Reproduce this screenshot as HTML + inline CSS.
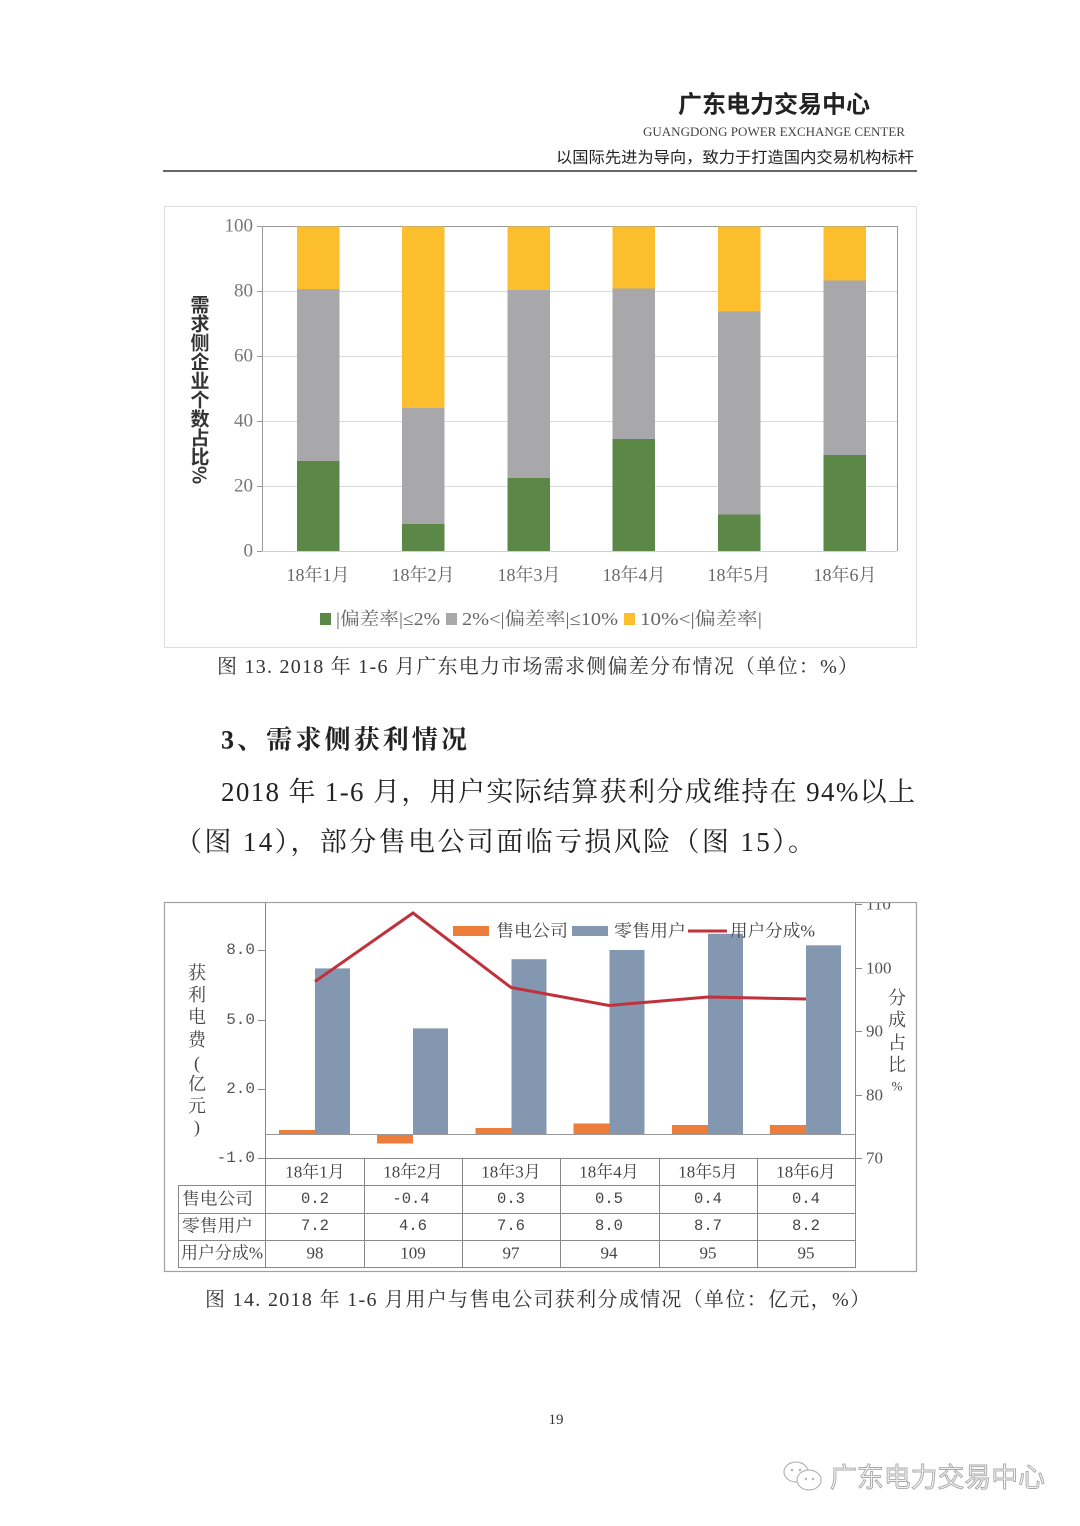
<!DOCTYPE html>
<html><head><meta charset="utf-8"><style>
html,body{margin:0;padding:0;background:#fff;}
svg{display:block;}
</style></head><body>
<svg width="1080" height="1526" viewBox="0 0 1080 1526" xmlns="http://www.w3.org/2000/svg">
<rect width="1080" height="1526" fill="#fff"/>
<!-- header -->
<text x="678" y="105" font-family="'Liberation Sans','Noto Sans CJK SC',sans-serif" font-weight="bold" font-size="24" fill="#222" dominant-baseline="central" textLength="192" lengthAdjust="spacingAndGlyphs">广东电力交易中心</text>
<text x="643" y="132" font-family="'Liberation Serif',serif" font-size="12.5" fill="#444" dominant-baseline="central" textLength="262" lengthAdjust="spacingAndGlyphs">GUANGDONG POWER EXCHANGE CENTER</text>
<text x="556" y="158" font-family="'Liberation Sans','Noto Sans CJK SC',sans-serif" font-size="15.5" fill="#222" dominant-baseline="central" textLength="358" lengthAdjust="spacingAndGlyphs">以国际先进为导向，致力于打造国内交易机构标杆</text>
<line x1="163" y1="171" x2="917" y2="171" stroke="#333" stroke-width="1.5"/>

<!-- chart 1 -->
<rect x="164.5" y="206.5" width="752" height="441" fill="#fff" stroke="#dcdcdc" stroke-width="1"/>
<g stroke="#d9d9d9" stroke-width="1">
<line x1="262" y1="291.5" x2="897" y2="291.5"/>
<line x1="262" y1="356.5" x2="897" y2="356.5"/>
<line x1="262" y1="421.5" x2="897" y2="421.5"/>
<line x1="262" y1="486.5" x2="897" y2="486.5"/>
</g>
<line x1="262" y1="226.5" x2="897" y2="226.5" stroke="#999" stroke-width="1"/>
<line x1="897.5" y1="226" x2="897.5" y2="551" stroke="#999" stroke-width="1"/>
<line x1="262" y1="551.5" x2="897" y2="551.5" stroke="#d0d0d0" stroke-width="1"/>
<line x1="262.5" y1="226" x2="262.5" y2="551" stroke="#999" stroke-width="1"/>
<g stroke="#999" stroke-width="1">
<line x1="257" y1="226.5" x2="262" y2="226.5"/>
<line x1="257" y1="291.5" x2="262" y2="291.5"/>
<line x1="257" y1="356.5" x2="262" y2="356.5"/>
<line x1="257" y1="421.5" x2="262" y2="421.5"/>
<line x1="257" y1="486.5" x2="262" y2="486.5"/>
<line x1="257" y1="551.5" x2="262" y2="551.5"/>
</g>
<g font-family="'Liberation Serif',serif" font-size="19" fill="#777" text-anchor="end" dominant-baseline="central">
<text x="253" y="226">100</text>
<text x="253" y="291">80</text>
<text x="253" y="356">60</text>
<text x="253" y="421">40</text>
<text x="253" y="486">20</text>
<text x="253" y="551">0</text>
</g>
<g>
<rect x="297" y="226.5" width="42.5" height="62.5" fill="#fcbe2c"/>
<rect x="297" y="289" width="42.5" height="172" fill="#a8a8aa"/>
<rect x="297" y="461" width="42.5" height="90" fill="#5b8747"/>

<rect x="402" y="226.5" width="42.5" height="181.5" fill="#fcbe2c"/>
<rect x="402" y="408" width="42.5" height="116" fill="#a8a8aa"/>
<rect x="402" y="524" width="42.5" height="27" fill="#5b8747"/>

<rect x="507.5" y="226.5" width="42.5" height="63.5" fill="#fcbe2c"/>
<rect x="507.5" y="290" width="42.5" height="188" fill="#a8a8aa"/>
<rect x="507.5" y="478" width="42.5" height="73" fill="#5b8747"/>

<rect x="612.5" y="226.5" width="42.5" height="62" fill="#fcbe2c"/>
<rect x="612.5" y="288.5" width="42.5" height="150.5" fill="#a8a8aa"/>
<rect x="612.5" y="439" width="42.5" height="112" fill="#5b8747"/>

<rect x="718" y="226.5" width="42.5" height="85" fill="#fcbe2c"/>
<rect x="718" y="311.5" width="42.5" height="203" fill="#a8a8aa"/>
<rect x="718" y="514.5" width="42.5" height="36.5" fill="#5b8747"/>

<rect x="823.5" y="226.5" width="42.5" height="54" fill="#fcbe2c"/>
<rect x="823.5" y="280.5" width="42.5" height="174.5" fill="#a8a8aa"/>
<rect x="823.5" y="455" width="42.5" height="96" fill="#5b8747"/>
</g>
<g font-family="'Liberation Serif','Noto Serif CJK SC',serif" font-size="18" fill="#666" text-anchor="middle" dominant-baseline="central">
<text x="318" y="575">18年1月</text>
<text x="423" y="575">18年2月</text>
<text x="529" y="575">18年3月</text>
<text x="634" y="575">18年4月</text>
<text x="739" y="575">18年5月</text>
<text x="845" y="575">18年6月</text>
</g>
<g font-family="'Noto Sans CJK SC','Liberation Sans',sans-serif" font-weight="bold" font-size="19" fill="#333" text-anchor="middle" dominant-baseline="central">
<text x="200" y="304">需</text>
<text x="200" y="323">求</text>
<text x="200" y="342">侧</text>
<text x="200" y="361">企</text>
<text x="200" y="380">业</text>
<text x="200" y="399">个</text>
<text x="200" y="418">数</text>
<text x="200" y="437">占</text>
<text x="200" y="456">比</text>
<text x="200" y="475" transform="rotate(90 200 475)">%</text>
</g>
<rect x="320" y="613" width="11" height="12" fill="#5b8747"/>
<rect x="446" y="613" width="11" height="12" fill="#a8a8aa"/>
<rect x="624" y="613" width="11" height="12" fill="#fcbe2c"/>
<g font-family="'Liberation Serif','Noto Serif CJK SC',serif" font-size="18" fill="#666" dominant-baseline="central">
<text x="336" y="619" textLength="104" lengthAdjust="spacingAndGlyphs">|偏差率|≤2%</text>
<text x="462" y="619" textLength="156" lengthAdjust="spacingAndGlyphs">2%&lt;|偏差率|≤10%</text>
<text x="640" y="619" textLength="122" lengthAdjust="spacingAndGlyphs">10%&lt;|偏差率|</text>
</g>
<text x="217" y="667" font-family="'Liberation Serif','Noto Serif CJK SC',serif" font-size="20" fill="#333" dominant-baseline="central" textLength="641" lengthAdjust="spacing">图 13. 2018 年 1-6 月广东电力市场需求侧偏差分布情况（单位：%）</text>

<!-- body text -->
<text x="221" y="740" font-family="'Liberation Serif','Noto Serif CJK SC',serif" font-weight="bold" font-size="26" fill="#222" dominant-baseline="central" textLength="246" lengthAdjust="spacing">3、需求侧获利情况</text>
<text x="221" y="792" font-family="'Liberation Serif','Noto Serif CJK SC',serif" font-size="27" fill="#222" dominant-baseline="central" textLength="694" lengthAdjust="spacing">2018 年 1-6 月，用户实际结算获利分成维持在 94%以上</text>
<text x="175" y="842" font-family="'Liberation Serif','Noto Serif CJK SC',serif" font-size="27" fill="#222" dominant-baseline="central" textLength="640" lengthAdjust="spacing">（图 14），部分售电公司面临亏损风险（图 15）。</text>

<!-- chart 2 -->
<defs><clipPath id="c2"><rect x="165" y="903" width="751" height="368"/></clipPath></defs>
<rect x="164.5" y="902.5" width="752" height="369" fill="#fff" stroke="#a0a0a0" stroke-width="1.2"/>
<g clip-path="url(#c2)">
<line x1="265.5" y1="903" x2="265.5" y2="1267" stroke="#888" stroke-width="1"/>
<line x1="855.5" y1="903" x2="855.5" y2="1267" stroke="#888" stroke-width="1"/>
<g stroke="#888" stroke-width="1">
<line x1="258" y1="950.5" x2="265" y2="950.5"/>
<line x1="258" y1="1020.5" x2="265" y2="1020.5"/>
<line x1="258" y1="1089.5" x2="265" y2="1089.5"/>
<line x1="258" y1="1158.5" x2="265" y2="1158.5"/>
<line x1="856" y1="904.5" x2="862" y2="904.5"/>
<line x1="856" y1="968.5" x2="862" y2="968.5"/>
<line x1="856" y1="1031.5" x2="862" y2="1031.5"/>
<line x1="856" y1="1095.5" x2="862" y2="1095.5"/>
<line x1="856" y1="1158.5" x2="862" y2="1158.5"/>
</g>
<g font-family="'Liberation Serif',serif" font-size="17" fill="#555" dominant-baseline="central">
<text x="866" y="904">110</text>
<text x="866" y="968">100</text>
<text x="866" y="1031">90</text>
<text x="866" y="1095">80</text>
<text x="866" y="1158">70</text>
</g>
</g>
<g font-family="'Liberation Mono',monospace" font-size="16" fill="#555" text-anchor="end" dominant-baseline="central">
<text x="255" y="950">8.0</text>
<text x="255" y="1020">5.0</text>
<text x="255" y="1089">2.0</text>
<text x="255" y="1158">-1.0</text>
</g>
<g font-family="'Liberation Serif','Noto Serif CJK SC',serif" font-size="18" fill="#444" text-anchor="middle" dominant-baseline="central">
<text x="197" y="973">获</text>
<text x="197" y="995">利</text>
<text x="197" y="1017">电</text>
<text x="197" y="1040">费</text>
<text x="197" y="1063">(</text>
<text x="197" y="1084">亿</text>
<text x="197" y="1106">元</text>
<text x="197" y="1127">)</text>
<text x="897" y="998">分</text>
<text x="897" y="1020">成</text>
<text x="897" y="1043">占</text>
<text x="897" y="1065">比</text>
<text x="897" y="1086" font-size="13">%</text>
</g>
<g fill="#8497b0">
<rect x="315" y="968.4" width="35" height="166.1"/>
<rect x="413" y="1028.4" width="35" height="106.1"/>
<rect x="511.5" y="959.2" width="35" height="175.3"/>
<rect x="609.5" y="950" width="35" height="184.5"/>
<rect x="708" y="933.8" width="35" height="200.7"/>
<rect x="806" y="945.3" width="35" height="189.2"/>
</g>
<g fill="#ec7d3a">
<rect x="279" y="1130" width="36" height="4.5"/>
<rect x="377" y="1134.5" width="36" height="9"/>
<rect x="475.5" y="1128" width="36" height="6.5"/>
<rect x="573.5" y="1123.5" width="36" height="11"/>
<rect x="672" y="1125" width="36" height="9.5"/>
<rect x="770" y="1125" width="36" height="9.5"/>
</g>
<line x1="265.5" y1="1134.5" x2="855.5" y2="1134.5" stroke="#999" stroke-width="1"/>
<polyline points="315,981.5 413,913 511,987.5 609,1005.5 708,997 806,999" fill="none" stroke="#c0313c" stroke-width="3" stroke-linejoin="miter"/>
<rect x="453" y="926" width="36" height="10" fill="#ec7d3a"/>
<rect x="572" y="926" width="36" height="10" fill="#8497b0"/>
<line x1="688" y1="931" x2="727" y2="931" stroke="#c0313c" stroke-width="3"/>
<g font-family="'Liberation Serif','Noto Serif CJK SC',serif" font-size="17" fill="#444" dominant-baseline="central">
<text x="496" y="931" textLength="72" lengthAdjust="spacingAndGlyphs">售电公司</text>
<text x="614" y="931" textLength="72" lengthAdjust="spacingAndGlyphs">零售用户</text>
<text x="730" y="931" textLength="85" lengthAdjust="spacingAndGlyphs">用户分成%</text>
</g>
<g stroke="#888" stroke-width="1" fill="none">
<line x1="265" y1="1158.5" x2="855" y2="1158.5"/>
<line x1="178" y1="1185.5" x2="855" y2="1185.5"/>
<line x1="178" y1="1213.5" x2="855" y2="1213.5"/>
<line x1="178" y1="1240.5" x2="855" y2="1240.5"/>
<line x1="178" y1="1267.5" x2="855" y2="1267.5"/>
<line x1="178.5" y1="1185" x2="178.5" y2="1268"/>
<line x1="364.5" y1="1158" x2="364.5" y2="1268"/>
<line x1="462.5" y1="1158" x2="462.5" y2="1268"/>
<line x1="560.5" y1="1158" x2="560.5" y2="1268"/>
<line x1="659.5" y1="1158" x2="659.5" y2="1268"/>
<line x1="757.5" y1="1158" x2="757.5" y2="1268"/>
<line x1="265.5" y1="1158" x2="265.5" y2="1268"/>
<line x1="855.5" y1="1158" x2="855.5" y2="1268"/>
</g>
<g font-family="'Liberation Serif','Noto Serif CJK SC',serif" font-size="17" fill="#444" text-anchor="middle" dominant-baseline="central">
<text x="315" y="1172">18年1月</text>
<text x="413" y="1172">18年2月</text>
<text x="511" y="1172">18年3月</text>
<text x="609" y="1172">18年4月</text>
<text x="708" y="1172">18年5月</text>
<text x="806" y="1172">18年6月</text>
<text x="315" y="1253">98</text>
<text x="413" y="1253">109</text>
<text x="511" y="1253">97</text>
<text x="609" y="1253">94</text>
<text x="708" y="1253">95</text>
<text x="806" y="1253">95</text>
</g>
<g font-family="'Liberation Serif','Noto Serif CJK SC',serif" font-size="17" fill="#444" dominant-baseline="central">
<text x="182" y="1199" textLength="71" lengthAdjust="spacingAndGlyphs">售电公司</text>
<text x="182" y="1226" textLength="71" lengthAdjust="spacingAndGlyphs">零售用户</text>
<text x="181" y="1253" textLength="82" lengthAdjust="spacingAndGlyphs">用户分成%</text>
</g>
<g font-family="'Liberation Mono',monospace" font-size="15.5" fill="#444" text-anchor="middle" dominant-baseline="central">
<text x="315" y="1199">0.2</text>
<text x="411" y="1199">-0.4</text>
<text x="511" y="1199">0.3</text>
<text x="609" y="1199">0.5</text>
<text x="708" y="1199">0.4</text>
<text x="806" y="1199">0.4</text>
<text x="315" y="1226">7.2</text>
<text x="413" y="1226">4.6</text>
<text x="511" y="1226">7.6</text>
<text x="609" y="1226">8.0</text>
<text x="708" y="1226">8.7</text>
<text x="806" y="1226">8.2</text>
</g>
<text x="205" y="1300" font-family="'Liberation Serif','Noto Serif CJK SC',serif" font-size="20" fill="#333" dominant-baseline="central" textLength="665" lengthAdjust="spacing">图 14. 2018 年 1-6 月用户与售电公司获利分成情况（单位：亿元，%）</text>

<text x="556" y="1420" font-family="'Liberation Serif',serif" font-size="15" fill="#333" text-anchor="middle" dominant-baseline="central">19</text>

<g fill="#fff" stroke="#b5b5b5" stroke-width="1.2">
<ellipse cx="796" cy="1472" rx="12" ry="10"/>
<ellipse cx="809" cy="1480" rx="12" ry="10"/>
</g>
<g fill="#b5b5b5"><circle cx="792" cy="1470" r="1.3"/><circle cx="800" cy="1470" r="1.3"/><circle cx="806" cy="1479" r="1.2"/><circle cx="813" cy="1479" r="1.2"/></g>
<text x="830" y="1478" font-family="'Liberation Sans','Noto Sans CJK SC',sans-serif" font-size="27" fill="#f4f4f4" stroke="#a8a8a8" stroke-width="0.9" dominant-baseline="central" textLength="215" lengthAdjust="spacingAndGlyphs">广东电力交易中心</text>
</svg>
</body></html>
